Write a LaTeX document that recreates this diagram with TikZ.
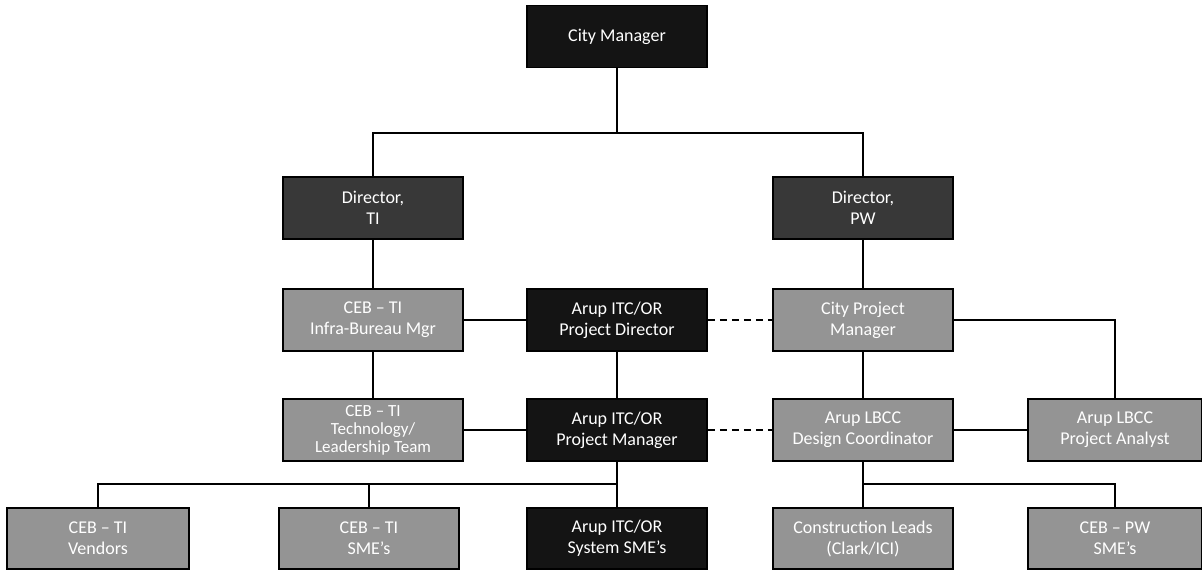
\documentclass[tikz,border=0pt]{standalone}
\usepackage{fontspec}
\setmainfont{Carlito}
\begin{document}
\begin{tikzpicture}[x=1pt, y=-1pt, font=\fontsize{18}{21}\selectfont, every node/.style={draw=black, line width=1.8pt, text=white, align=center, minimum width=180pt, minimum height=62pt, inner sep=0pt}, arupbox/.style={fill=black!92}, dirbox/.style={fill=black!78}, citybox/.style={fill=black!42}, link/.style={line width=1.4pt}, duallink/.style={line width=1.8pt, dash pattern=on 7pt off 5pt}]
	\useasboundingbox (0,0) rectangle (1202,571);

	% top
	\node[arupbox] (cm) at (617, 36.5) {City Manager};
	\node[dirbox] (dirti) at (373, 208) {Director,\\TI};
	\node[dirbox] (dirpw) at (863, 208) {Director,\\PW};
	\coordinate (cmbus) at (617, 133);
	\draw[link] (cm.south) -- (cmbus);
	\draw[link] (dirti.north) |- (cmbus) -| (dirpw.north);

	% middle rows
	\node[citybox] (infra) at (373, 320) {CEB -- TI\\Infra-Bureau Mgr};
	\node[arupbox] (apd) at (617, 320) {Arup ITC/OR\\Project Director};
	\node[citybox] (cpm) at (863, 320) {City Project\\Manager};
	\node[citybox, font=\fontsize{17}{18}\selectfont] (tech) at (373, 430) {CEB -- TI\\Technology/\\Leadership Team};
	\node[arupbox] (apm) at (617, 430) {Arup ITC/OR\\Project Manager};
	\node[citybox] (dc) at (863, 430) {Arup LBCC\\Design Coordinator};
	\node[citybox, minimum width=174pt] (pa) at (1115, 430) {Arup LBCC\\Project Analyst};
	\draw[link] (dirti) -- (infra);
	\draw[link] (infra) -- (tech);
	\draw[link] (dirpw) -- (cpm);
	\draw[link] (cpm) -- (dc);
	\draw[link] (apd) -- (apm);
	\draw[link] (infra) -- (apd);
	\draw[link] (tech) -- (apm);
	\draw[duallink] (apd) -- (cpm);
	\draw[duallink] (apm) -- (dc);
	\draw[link] (dc) -- (pa);
	\draw[link] (cpm.east) -| (pa.north);

	% bottom row
	\node[citybox, minimum width=182pt, minimum height=61pt] (vend) at (98, 538.5) {CEB -- TI\\Vendors};
	\node[citybox, minimum height=61pt] (cebsme) at (369, 538.5) {CEB -- TI\\SME’s};
	\node[arupbox, minimum height=61pt] (sys) at (617, 538.5) {Arup ITC/OR\\System SME’s};
	\node[citybox, minimum height=61pt] (cons) at (863, 538.5) {Construction Leads\\(Clark/ICI)};
	\node[citybox, minimum width=174pt, minimum height=61pt] (pwsme) at (1115, 538.5) {CEB -- PW\\SME’s};
	\coordinate (tibus) at (617, 484);
	\draw[link] (apm) -- (sys);
	\draw[link] (vend.north) |- (tibus);
	\draw[link] (cebsme.north) |- (tibus);
	\draw[link] (dc) -- (cons);
	\draw[link] (pwsme.north) |- (cons.north |- tibus);
\end{tikzpicture}
\end{document}
